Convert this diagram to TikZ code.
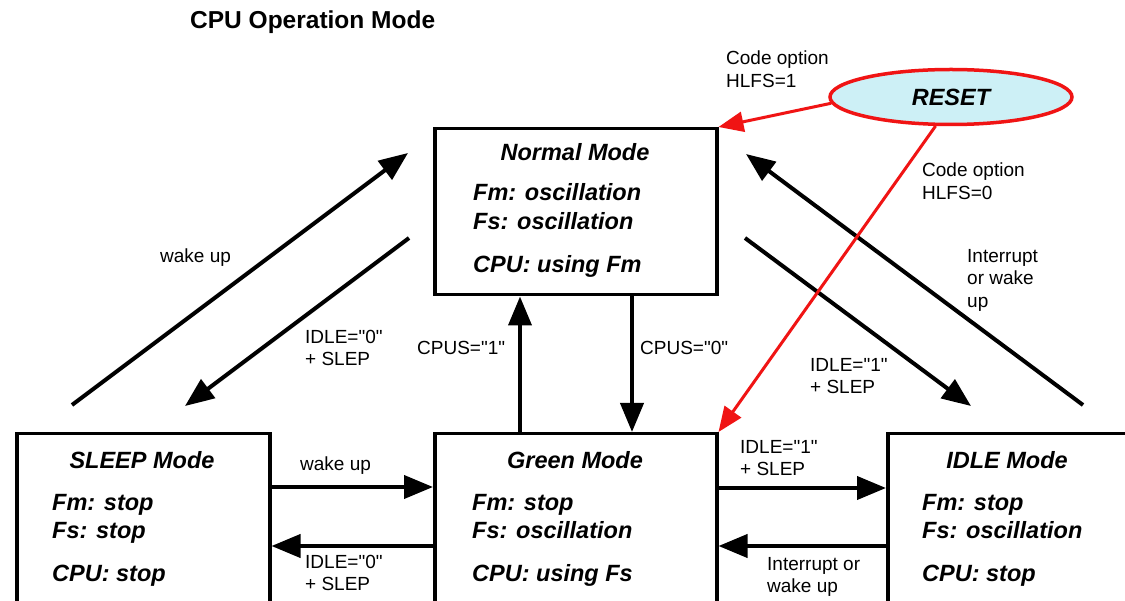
\documentclass[tikz,border=0pt]{standalone}
\usepackage{fontspec}
\setmainfont{Liberation Sans}
\newfontfamily\plainsans{Liberation Sans}
\usetikzlibrary{arrows.meta,shapes.geometric,calc}
\definecolor{resetfill}{RGB}{205,240,246}
\definecolor{resetred}{RGB}{240,20,20}
\begin{document}
\begin{tikzpicture}[x=1pt,y=-1pt,
  modebox/.style={draw=black,line width=3.5pt,inner sep=0pt,anchor=north west,minimum height=215pt},
  arr/.style={line width=4pt,-{Triangle[length=29pt,width=23pt]}},
  redarr/.style={draw=resetred,line width=3pt,-{Triangle[length=25pt,width=20pt]},resetred},
  lbl/.style={font=\plainsans\fontsize{19}{22.5}\selectfont,align=left,inner sep=0pt,anchor=west},
  bt/.style={font=\fontsize{23.5}{28}\selectfont\bfseries\itshape,inner sep=0pt},
  bl/.style={bt,anchor=base west,align=left}]
\clip (0,0) rectangle (1125,601);
\fill[white] (0,0) rectangle (1125,601);

\node[font=\fontsize{24.5}{28}\selectfont\bfseries,anchor=west,inner sep=0pt] (title) at (190,22) {CPU Operation Mode};

% boxes
\node[modebox,minimum width=282pt,minimum height=166pt] (normal) at (433,127) {};
\node[modebox,minimum width=253pt] (sleep) at (15,432) {};
\node[modebox,minimum width=282pt] (green) at (433,432) {};
\node[modebox,minimum width=290pt] (idle) at (886,432) {};

% box texts
\node[bt,anchor=base] (ntitle) at (575,161) {Normal Mode};
\node[bl] (nfm) at (473,201) {Fm: oscillation};
\node[bl] (nfs) at (473,230) {Fs: oscillation};
\node[bl] (ncpu) at (473,273) {CPU: using Fm};

\node[bt,anchor=base] (stitle) at (142,469) {SLEEP Mode};
\node[bl] (sfm) at (52,511) {Fm: stop};
\node[bl] (sfs) at (52,538) {Fs: stop};
\node[bl] (scpu) at (52,581) {CPU: stop};

\node[bt,anchor=base] (gtitle) at (575,469) {Green Mode};
\node[bl] (gfm) at (472,511) {Fm: stop};
\node[bl] (gfs) at (472,538) {Fs: oscillation};
\node[bl] (gcpu) at (472,581) {CPU: using Fs};

\node[bt,anchor=base] (ititle) at (1007,469) {IDLE Mode};
\node[bl] (ifm) at (922,511) {Fm: stop};
\node[bl] (ifs) at (922,538) {Fs: oscillation};
\node[bl] (icpu) at (922,581) {CPU: stop};

% reset
\node[ellipse,draw=resetred,line width=3.5pt,fill=resetfill,minimum width=242pt,minimum height=55pt,inner sep=0pt,
      font=\fontsize{23.5}{28}\selectfont\bfseries\itshape] (reset) at (951,97) {RESET};

% diagonal coordinates
\coordinate (wus) at (72,405);
\coordinate (wue) at (408,153);
\coordinate (izs) at (409,238);
\coordinate (ize) at (185,406);
\coordinate (ios) at (745,238);
\coordinate (ioe) at (971,406);
\coordinate (irs) at (1083,405);
\coordinate (ire) at (746,154);

\draw[arr] (wus) -- (wue);
\draw[arr] (izs) -- (ize);
\draw[arr] (ios) -- (ioe);
\draw[arr] (irs) -- (ire);

% vertical
\draw[arr] ($(green.north west)+(87,0)$) -- ($(normal.south west)+(87,0)$);
\draw[arr] ($(normal.south west)+(199,0)$) -- ($(green.north west)+(199,0)$);

% horizontal
\draw[arr] ($(sleep.north east)+(0,55)$) -- ($(green.north west)+(0,55)$);
\draw[arr] ($(green.north west)+(0,114)$) -- ($(sleep.north east)+(0,114)$);
\draw[arr] ($(green.north east)+(0,56)$) -- ($(idle.north west)+(0,56)$);
\draw[arr] ($(idle.north west)+(0,114)$) -- ($(green.north east)+(0,114)$);

% red
\draw[redarr] (reset.183) -- (normal.north east);
\draw[redarr] (reset.242) -- (green.north east);

% labels
\node[lbl] (lco1) at (726,69) {Code option\\HLFS=1};
\node[lbl] (lco0) at (922,181) {Code option\\HLFS=0};
\node[lbl] (lwu) at (160,258) {wake up};
\node[lbl] (liz) at (305,348) {IDLE="0"\\+ SLEP};
\node[lbl] (lc1) at (417,348) {CPUS="1"};
\node[lbl] (lc0) at (640,348) {CPUS="0"};
\node[lbl] (lio) at (810,376) {IDLE="1"\\+ SLEP};
\node[lbl] (lir) at (967,280) {Interrupt\\or wake\\up};
\node[lbl] (lwu2) at (300,466) {wake up};
\node[lbl] (liz2) at (305,573) {IDLE="0"\\+ SLEP};
\node[lbl] (lio2) at (740,458) {IDLE="1"\\+ SLEP};
\node[lbl] (lir2) at (767,577) {Interrupt or\\wake up};
\end{tikzpicture}
\end{document}
